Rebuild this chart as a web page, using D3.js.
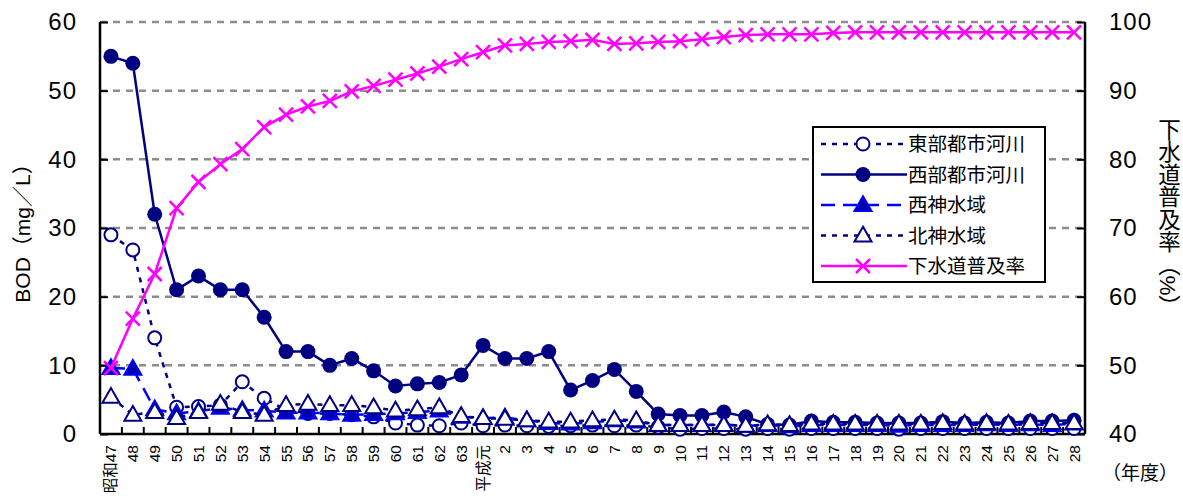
<!DOCTYPE html>
<html>
<head>
<meta charset="utf-8">
<script src="https://cdn.jsdelivr.net/npm/d3@7"></script>
<style>
  body { margin: 0; background: #fff; }
  svg text { font-family: "Liberation Sans", "Noto Sans CJK JP", sans-serif; fill: #000; }
</style>
</head>
<body>
<div id="chart"></div>
<script>
// 年度
let years = ["昭和47","48","49","50","51","52","53","54","55","56","57","58","59","60","61","62","63",
  "平成元","2","3","4","5","6","7","8","9","10","11","12","13","14","15","16","17","18","19","20",
  "21","22","23","24","25","26","27","28"]

// BOD (mg/L)
let east = [29,26.8,14,3.9,4.0,4.2,7.6,5.2,3.5,3.0,3.0,2.8,2.5,1.6,1.3,1.2,1.6,
  1.2,1.3,1.2,1.1,1.2,1.3,1.2,1.3,1.0,0.7,0.8,0.8,0.7,0.8,0.7,0.8,0.8,0.8,0.8,0.7,
  0.8,0.8,0.8,0.8,0.8,0.8,0.8,0.8]
let west = [55,54,32,21,23,21,21,17,12,12,10,11,9.2,7,7.3,7.5,8.6,
  12.9,11,11,12,6.4,7.8,9.4,6.2,2.9,2.7,2.7,3.2,2.5,1.4,1.3,1.9,1.7,1.7,1.6,1.6,
  1.6,1.8,1.6,1.7,1.6,1.9,1.9,2.0]
let seishin = [9.6,9.5,3.6,3.0,3.3,3.8,3.5,3.4,3.1,3.1,3.0,2.8,2.9,3.0,3.2,3.4,2.5,
  2.3,2.4,2.0,1.6,1.5,1.7,2.0,1.8,1.3,1.3,1.3,1.4,1.2,1.3,1.1,1.3,1.3,1.3,1.3,1.2,
  1.3,1.3,1.3,1.4,1.3,1.4,1.3,1.5]
let hokushin = [5.4,2.8,3.2,2.3,3.2,4.4,3.2,2.8,4.2,4.4,4.2,4.2,3.9,3.4,3.6,3.9,2.6,
  2.3,2.2,2.0,1.8,1.8,2.0,2.1,2.0,1.3,1.3,1.3,1.3,1.2,1.4,1.3,1.5,1.5,1.5,1.5,1.5,
  1.5,1.6,1.5,1.6,1.5,1.6,1.6,1.6]
// 下水道普及率 (%)
let sewer = [49.6,56.8,63.3,72.9,76.7,79.3,81.5,84.7,86.5,87.7,88.5,89.9,90.7,91.6,92.5,93.5,94.6,
  95.6,96.6,96.8,97.1,97.2,97.4,96.8,96.9,97.1,97.2,97.5,97.8,98.1,98.2,98.2,98.2,98.4,98.5,98.5,98.5,
  98.5,98.5,98.5,98.5,98.5,98.5,98.5,98.5]

let leftTicks = [0,10,20,30,40,50,60]
let rightTicks = [40,50,60,70,80,90,100]

const W = 1183, H = 501
const L = 100, R = 1085, T = 22, B = 434
const navy = "#000080", blue = "#0000ff", pink = "#ff00ff"

let svg = d3.select("#chart").append("svg").attr("width", W).attr("height", H)

let x = d3.scaleBand().domain(years).range([L, R])
let cx = (i) => x(years[i]) + x.bandwidth() / 2
let y = d3.scaleLinear().domain([0, 60]).range([B, T])
let y2 = d3.scaleLinear().domain([40, 100]).range([B, T])

// grid
svg.selectAll("line.grid").data(leftTicks.slice(1)).enter().append("line")
  .attr("class", "grid")
  .attr("x1", L).attr("x2", R)
  .attr("y1", d => y(d)).attr("y2", d => y(d))
  .attr("stroke", "#8c8c8c").attr("stroke-width", 2.5).attr("stroke-dasharray", "7,6")

// axes
let la = svg.append("g").attr("transform", `translate(${L},0)`)
  .call(d3.axisLeft(y).tickValues(leftTicks).tickSize(-8).tickPadding(23))
la.select(".domain").attr("stroke", "#000").attr("stroke-width", 2.5).attr("d", `M0,${T}V${B}`)
la.selectAll(".tick line").attr("stroke", "#000").attr("stroke-width", 2)
la.selectAll(".tick text").attr("font-size", 24).attr("font-family", "Liberation Sans")
  .attr("letter-spacing", 1)

let ra = svg.append("g").attr("transform", `translate(${R},0)`)
  .call(d3.axisRight(y2).tickValues(rightTicks).tickSize(-8).tickPadding(24))
ra.select(".domain").attr("stroke", "#000").attr("stroke-width", 2.5).attr("d", `M0,${T}V${B}`)
ra.selectAll(".tick line").attr("stroke", "#000").attr("stroke-width", 2)
ra.selectAll(".tick text").attr("font-size", 24).attr("font-family", "Liberation Sans")
  .attr("letter-spacing", 1)

let ba = svg.append("g").attr("transform", `translate(0,${B})`)
ba.append("line").attr("x1", L).attr("x2", R).attr("stroke", "#000").attr("stroke-width", 2.5)
ba.selectAll("line.xt").data(years.slice(1)).enter().append("line")
  .attr("class", "xt")
  .attr("x1", d => x(d)).attr("x2", d => x(d))
  .attr("y1", 0).attr("y2", -7)
  .attr("stroke", "#000").attr("stroke-width", 2)
ba.selectAll("text.xl").data(years).enter().append("text")
  .attr("class", "xl")
  .attr("transform", d => `translate(${x(d) + x.bandwidth() / 2 + 5.5},11) rotate(-90)`)
  .attr("text-anchor", "end")
  .attr("font-size", 15.5)
  .text(d => d)

svg.append("text").attr("x", 1140).attr("y", 480).attr("text-anchor", "middle")
  .attr("font-size", 19).text("（年度）")

svg.append("text").attr("transform", "translate(30,228) rotate(-90)")
  .attr("text-anchor", "middle").attr("font-size", 21).text("BOD（mg／L）")

svg.append("text").attr("x", 1167).attr("y", 218)
  .attr("text-anchor", "middle")
  .style("writing-mode", "vertical-rl")
  .attr("font-size", 22.5).text("下水道普及率（%）")

// series
let series = [
  { name: "東部都市河川", data: east, sc: y, color: navy, dash: "5,6", marker: "ocircle" },
  { name: "西部都市河川", data: west, sc: y, color: navy, dash: null, marker: "circle" },
  { name: "西神水域", data: seishin, sc: y, color: blue, dash: "14,8", marker: "triangle" },
  { name: "北神水域", data: hokushin, sc: y, color: navy, dash: "5,6", marker: "otriangle" },
  { name: "下水道普及率", data: sewer, sc: y2, color: pink, dash: null, marker: "x" }
]

let tri = d3.symbol().type(d3.symbolTriangle).size(125)

function drawMarker(g, m, px, py) {
  if (m === "ocircle") {
    g.append("circle").attr("cx", px).attr("cy", py).attr("r", 6.5)
      .attr("fill", "#fff").attr("stroke", navy).attr("stroke-width", 2)
  } else if (m === "circle") {
    g.append("circle").attr("cx", px).attr("cy", py).attr("r", 7.5).attr("fill", navy)
  } else if (m === "triangle") {
    g.append("path").attr("d", tri()).attr("transform", `translate(${px},${py + 1})`)
      .attr("fill", "#0000b0").attr("stroke", blue).attr("stroke-width", 2)
  } else if (m === "otriangle") {
    g.append("path").attr("d", tri()).attr("transform", `translate(${px},${py + 1})`)
      .attr("fill", "#fff").attr("stroke", navy).attr("stroke-width", 2)
  } else if (m === "x") {
    let s = 7
    g.append("path").attr("d", `M${px - s},${py - s}L${px + s},${py + s}M${px - s},${py + s}L${px + s},${py - s}`)
      .attr("stroke", pink).attr("stroke-width", 2.5)
  }
}

series.forEach(s => {
  let g = svg.append("g")
  let line = d3.line().x((d, i) => cx(i)).y(d => s.sc(d))
  g.append("path").datum(s.data).attr("d", line)
    .attr("fill", "none").attr("stroke", s.color).attr("stroke-width", 2.5)
    .attr("stroke-dasharray", s.dash)
  s.data.forEach((d, i) => drawMarker(g, s.marker, cx(i), s.sc(d)))
})

// legend
let lg = svg.append("g").attr("transform", "translate(813,127)")
lg.append("rect").attr("width", 232).attr("height", 155)
  .attr("fill", "#fff").attr("stroke", "#000").attr("stroke-width", 2)
series.forEach((s, i) => {
  let yy = 17 + i * 30.5
  lg.append("line").attr("x1", 8).attr("x2", 94).attr("y1", yy).attr("y2", yy)
    .attr("stroke", s.color).attr("stroke-width", 2.5).attr("stroke-dasharray", s.dash)
  drawMarker(lg, s.marker, 50, yy)
  lg.append("text").attr("x", 95).attr("y", yy + 7).attr("font-size", 19.5)
    .attr("font-family", "Noto Sans CJK JP").text(s.name)
})
</script>
</body>
</html>
